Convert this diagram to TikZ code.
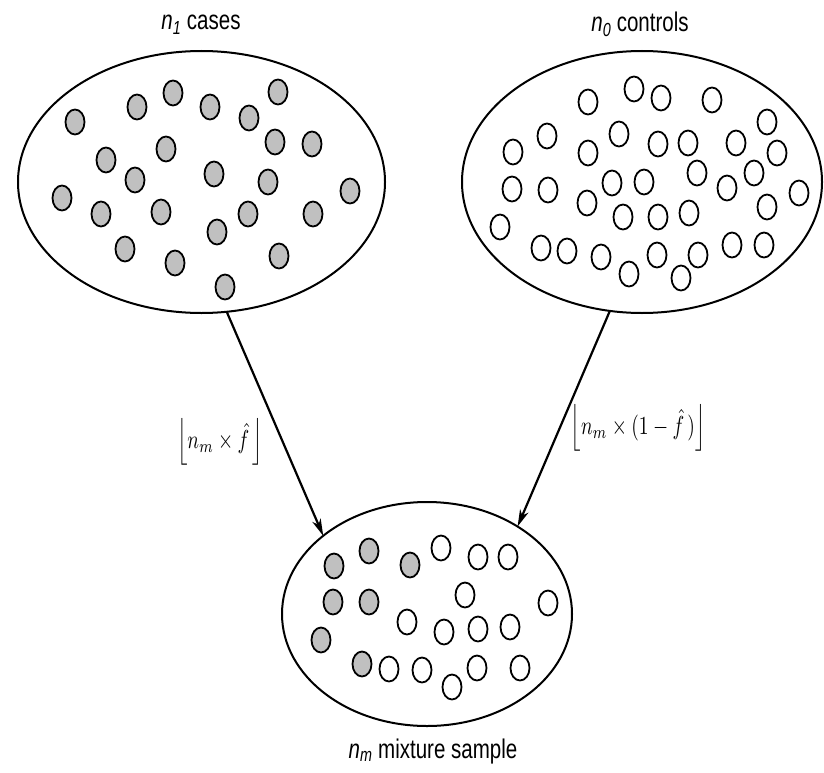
\documentclass[tikz,border=0pt]{standalone}
\usepackage{fontspec}
\setmainfont{Liberation Sans}
\usetikzlibrary{shapes.geometric,arrows.meta}
\definecolor{casegray}{RGB}{192,192,192}
\tikzset{
  bigell/.style={ellipse,draw=black,line width=2pt,inner sep=0pt,outer sep=0pt},
  dotc/.style={ellipse,draw=black,line width=1.8pt,minimum width=19pt,minimum height=25pt,inner sep=0pt},
  casec/.style={dotc,fill=casegray},
  ctrlc/.style={dotc,fill=white},
  conn/.style={line width=2.2pt,-{Stealth[length=17pt,width=9pt,inset=5pt]}},
  lbl/.style={font=\fontsize{27}{32}\selectfont,inner sep=0pt},
  mlbl/.style={inner sep=0pt}
}
\newcommand{\hsq}[1]{\scalebox{0.76}[1]{#1}}
\newcommand{\msq}[1]{\scalebox{1.95}[2.6]{#1}}
\begin{document}
\begin{tikzpicture}[x=1pt,y=-1pt]
\useasboundingbox (0,0) rectangle (824,773);
% big ellipses
\node[bigell,minimum width=367pt,minimum height=262pt] (cases) at (201.5,182) {};
\node[bigell,minimum width=360pt,minimum height=262pt] (ctrls) at (642,182) {};
\node[bigell,minimum width=290pt,minimum height=224pt] (mix) at (427,614) {};
% labels
\node[lbl,anchor=base] (lcases) at (201,30) {\hsq{\textit{n}\textsubscript{\textit{1}} cases}};
\node[lbl,anchor=base] (lctrls) at (640,32) {\hsq{\textit{n}\textsubscript{\textit{0}} controls}};
\node[lbl,anchor=base] (lmix) at (433,758) {\hsq{\textit{n}\textsubscript{\textit{m}} mixture sample}};
% cases
\foreach \x/\y [count=\i] in {75/122,137/107,173/93,210/107,249/118,278/92,275/142,312/144,
  166/149,106/160,135/180,214/174,268/182,350/191,62/198,101/214,161/212,248/214,
  217/232,313/214,125/249,175/263,279/256,225/287}
  \node[casec] (a\i) at (\x,\y) {};
% controls
\foreach \x/\y [count=\i] in {588/102,634/89,661/98,712/100,767/122,547/136,619/134,513/152,
  588/153,658/144,688/143,736/143,777/153,697/173,754/173,612/183,644/182,727/188,
  799/193,512/189,548/190,587/203,623/217,658/217,689/213,767/207,500/227,541/248,
  567/251,601/257,629/274,657/255,681/278,698/255,732/245,764/245}
  \node[ctrlc] (b\i) at (\x,\y) {};
% mixture
\foreach \x/\y [count=\i] in {334/566,369/551,410/565,333/602,369/602,321/640,362/664}
  \node[casec] (m\i) at (\x,\y) {};
\foreach \x/\y [count=\i] in {441/548,478/557,508/557,465/595,548/603,407/622,444/632,
  478/629,510/627,389/669,422/670,452/687,477/668,520/668}
  \node[ctrlc] (w\i) at (\x,\y) {};
% connectors
\draw[conn] (cases.281.5) -- (mix.143);
\draw[conn] (ctrls.256) -- (mix.44);
% formula labels
\node[mlbl] (fl) at (220,442) {\msq{$\left\lfloor n_m\times\hat{f}\,\right\rfloor$}};
\node[mlbl] (fr) at (638,428) {\msq{$\left\lfloor n_m\times(1-\hat{f}\,)\right\rfloor$}};
\end{tikzpicture}
\end{document}
